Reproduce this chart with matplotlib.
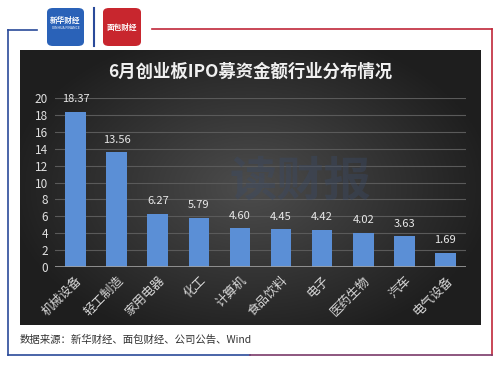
import numpy as np
import matplotlib.pyplot as plt
from matplotlib.patches import FancyBboxPatch
from matplotlib.lines import Line2D

plt.rcParams['font.family'] = ['Noto Sans CJK SC', 'DejaVu Sans']

# Data
industries = ['机械设备', '轻工制造', '家用电器', '化工', '计算机',
              '食品饮料', '电子', '医药生物', '汽车', '电气设备']
amounts = [18.37, 13.56, 6.27, 5.79, 4.60, 4.45, 4.42, 4.02, 3.63, 1.69]
yticks = [0, 2, 4, 6, 8, 10, 12, 14, 16, 18, 20]

W, H = 500, 366
fig = plt.figure(figsize=(W / 100, H / 100), dpi=100)
fig.patch.set_facecolor('white')

def fx(px):
    return px / W

def fy(py):
    return 1 - py / H

# Frame lines
fig.add_artist(Line2D([fx(8), fx(8)], [fy(30), fy(355)], color='#2a4a9a', lw=1.2))
fig.add_artist(Line2D([fx(8), fx(37)], [fy(30), fy(30)], color='#2a4a9a', lw=1.2))
fig.add_artist(Line2D([fx(152), fx(492)], [fy(29), fy(29)], color='#c0283a', lw=1.2))
fig.add_artist(Line2D([fx(492), fx(492)], [fy(29), fy(355)], color='#c0283a', lw=1.2))
fig.add_artist(Line2D([fx(8), fx(250)], [fy(355), fy(355)], color='#2a4a9a', lw=1.2))
fig.add_artist(Line2D([fx(250), fx(492)], [fy(355), fy(355)], color='#7a3a6a', lw=1.2))

# Logos
fig.add_artist(FancyBboxPatch((fx(47), fy(46)), fx(37), 38 / H,
                              boxstyle='round,pad=0,rounding_size=0.012',
                              fc='#2a62b8', ec='none'))
fig.text(fx(65.5), fy(20), '新华财经', color='white', fontsize=5.5,
         ha='center', va='center', fontweight='bold')
fig.text(fx(65.5), fy(28), 'XINHUA FINANCE', color='white', fontsize=2.5,
         ha='center', va='center')
fig.add_artist(Line2D([fx(94), fx(94)], [fy(8), fy(46)], color='#2a4a9a', lw=1.5))
fig.add_artist(FancyBboxPatch((fx(103), fy(46)), fx(38), 38 / H,
                              boxstyle='round,pad=0,rounding_size=0.012',
                              fc='#c8262e', ec='none'))
fig.text(fx(122), fy(27), '面包财经', color='white', fontsize=5.5,
         ha='center', va='center', fontweight='bold')

# Dark panel with radial gradient
bg = fig.add_axes([fx(20), fy(325), fx(460), 275 / H])
xx, yy = np.meshgrid(np.linspace(-1, 1, 300), np.linspace(-1, 1, 200))
r = np.sqrt(xx ** 2 + (yy * 0.9) ** 2)
shade = np.clip(0.30 - 0.17 * r, 0.12, 0.30)
img = np.dstack([shade, shade, shade])
bg.imshow(img, aspect='auto', extent=[0, 1, 0, 1])
bg.set_axis_off()

fig.text(0.5, fy(72), '6月创业板IPO募资金额行业分布情况', color='#f0f0f0',
         fontsize=12.5, fontweight='bold', ha='center', va='center')

# Watermark
fig.text(fx(300), fy(182), '读财报', color='#3a4a66', fontsize=34,
         fontweight='bold', ha='center', va='center', alpha=0.4)

ax = fig.add_axes([fx(55), fy(267), fx(411), (267 - 98) / H])
ax.set_facecolor('none')
x = np.arange(len(industries))
bars = ax.bar(x, amounts, width=0.5, color='#5b8fd6', zorder=3)
ax.set_xlim(-0.5, len(industries) - 0.5)
ax.set_ylim(0, 20)
ax.set_yticks(yticks)
ax.set_yticklabels([str(v) for v in yticks], color='#e0e0e0', fontsize=8.5)
ax.yaxis.grid(True, color='#5a5a5a', lw=0.8, zorder=0)
ax.axhline(0, color='#a0a0a0', lw=1.2, zorder=4)
ax.set_xticks(x)
ax.set_xticklabels(industries, rotation=45, ha='right', rotation_mode='anchor',
                   color='#d8d8d8', fontsize=9)
ax.tick_params(length=0, pad=5)
for s in ax.spines.values():
    s.set_visible(False)
for xi, v in zip(x, amounts):
    ax.text(xi, v + 0.9, f'{v:.2f}', color='#e8e8e8', fontsize=8,
            ha='center', va='bottom', clip_on=False)

fig.text(fx(20), fy(340), '数据来源：新华财经、面包财经、公司公告、Wind',
         color='#333333', fontsize=7.5, ha='left', va='center')

fig.savefig('out.png', dpi=100)
